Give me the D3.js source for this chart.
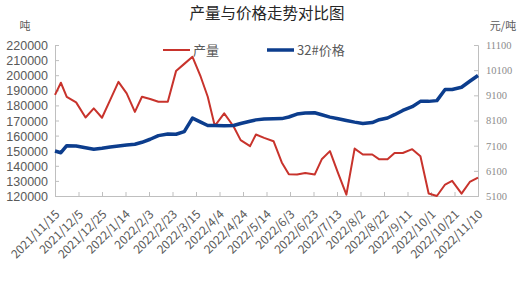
<!DOCTYPE html>
<html>
<head>
<meta charset="utf-8">
<script src="https://cdn.jsdelivr.net/npm/d3@7"></script>
<style>
  body { margin: 0; background: #fff; }
  svg { display: block; }
</style>
</head>
<body>
<div id="chart"></div>
<script>
// weekly observation dates
const dates = [
  "2021-11-15", "2021-11-20", "2021-11-25", "2021-12-03", "2021-12-11", "2021-12-18", "2021-12-25",
  "2022-01-01", "2022-01-08", "2022-01-15", "2022-01-22", "2022-01-28", "2022-02-04", "2022-02-11",
  "2022-02-19", "2022-02-26", "2022-03-05", "2022-03-12", "2022-03-19", "2022-03-25", "2022-03-31",
  "2022-04-08", "2022-04-16", "2022-04-22", "2022-04-30", "2022-05-05", "2022-05-12", "2022-05-20",
  "2022-05-27", "2022-06-02", "2022-06-09", "2022-06-16", "2022-06-24", "2022-06-30", "2022-07-07",
  "2022-07-14", "2022-07-21", "2022-07-28", "2022-08-04", "2022-08-12", "2022-08-18", "2022-08-25",
  "2022-08-31", "2022-09-07", "2022-09-15", "2022-09-22", "2022-09-29", "2022-10-06", "2022-10-13",
  "2022-10-19", "2022-10-27", "2022-11-03", "2022-11-10"
];

// 产量 (吨)
const output = [
  187000, 195000, 185700, 182000, 172000, 178000, 171800, 183700, 195600, 188000, 175700,
  185700, 184200, 182400, 182400, 202700, 207500, 212200, 199000, 185700, 166400, 174700,
  166000, 157000, 153000, 160700, 158500, 156300, 142200, 134400, 134200, 135300, 134200,
  144300, 149700, 135000, 120900, 151400, 147500, 147500, 144300, 144300, 148500, 148500,
  151000, 146300, 121600, 120000, 127600, 130000, 121600, 129300, 132200
];

// 32#价格 (元/吨)
const price = [
  6890, 6820, 7100, 7085, 7020, 6960, 6995, 7045, 7085, 7125, 7155,
  7235, 7355, 7500, 7565, 7555, 7660, 8195, 8035, 7900, 7900, 7895,
  7900, 7980, 8070, 8125, 8155, 8170, 8175, 8240, 8355, 8400, 8410,
  8330, 8235, 8170, 8100, 8035, 7980, 8020, 8130, 8200, 8330, 8500,
  8650, 8860, 8860, 8890, 9330, 9330, 9420, 9660, 9890
];

const leftTicks = [120000, 130000, 140000, 150000, 160000, 170000, 180000, 190000, 200000, 210000, 220000];
const rightTicks = [5100, 6100, 7100, 8100, 9100, 10100, 11100];
const xTickLabels = [
  "2021/11/15", "2021/12/5", "2021/12/25", "2022/1/14", "2022/2/3", "2022/2/23", "2022/3/15",
  "2022/4/4", "2022/4/24", "2022/5/14", "2022/6/3", "2022/6/23", "2022/7/13", "2022/8/2",
  "2022/8/22", "2022/9/11", "2022/10/1", "2022/10/21", "2022/11/10"
];

const width = 522, height = 295;
const plot = { left: 55, right: 478, top: 45, bottom: 196 };
const axisColor = "#bfbfbf";
const textColor = "#595959";
const redColor = "#c8332c";
const blueColor = "#0c3d8d";
const cjk = "'Noto Sans CJK SC', 'Noto Sans', sans-serif";

const parse = d3.timeParse("%Y-%m-%d");
const parseTick = d3.timeParse("%Y/%m/%d");

const rows = dates.map((d, i) => ({ date: parse(d), output: output[i], price: price[i] }));
const tickDates = xTickLabels.map(parseTick);

const svg = d3.select("#chart")
  .append("svg")
  .attr("width", width)
  .attr("height", height);

// Scales
const x = d3.scaleTime()
  .domain([tickDates[0], tickDates[tickDates.length - 1]])
  .range([plot.left, plot.right]);

const yLeft = d3.scaleLinear()
  .domain([120000, 220000])
  .range([plot.bottom, plot.top]);

const yRight = d3.scaleLinear()
  .domain([5100, 11100])
  .range([plot.bottom, plot.top]);

// Title
svg.append("text")
  .attr("x", 267)
  .attr("y", 19)
  .attr("text-anchor", "middle")
  .style("font-family", cjk)
  .style("font-size", "15.5px")
  .style("fill", "#262626")
  .text("产量与价格走势对比图");

// Unit labels
svg.append("text")
  .attr("x", 25)
  .attr("y", 30)
  .attr("text-anchor", "middle")
  .style("font-family", cjk)
  .style("font-size", "11px")
  .style("fill", textColor)
  .text("吨");

svg.append("text")
  .attr("x", 503)
  .attr("y", 30)
  .attr("text-anchor", "middle")
  .style("font-family", cjk)
  .style("font-size", "11px")
  .style("fill", textColor)
  .text("元/吨");

// Left axis
const gLeft = svg.append("g")
  .attr("transform", `translate(${plot.left},0)`)
  .call(d3.axisRight(yLeft).tickValues(leftTicks).tickSize(4).tickFormat(d3.format("d")));
gLeft.select(".domain").attr("stroke", axisColor);
gLeft.selectAll(".tick line").attr("stroke", axisColor);
gLeft.selectAll(".tick text")
  .attr("x", -7)
  .attr("dy", "0.36em")
  .attr("text-anchor", "end")
  .style("font-family", "'Liberation Sans', Arial, sans-serif")
  .style("font-size", "12.5px")
  .style("fill", textColor);

// Right axis
const gRight = svg.append("g")
  .attr("transform", `translate(${plot.right},0)`)
  .call(d3.axisLeft(yRight).tickValues(rightTicks).tickSize(4).tickFormat(d3.format("d")));
gRight.select(".domain").attr("stroke", axisColor);
gRight.selectAll(".tick line").attr("stroke", axisColor);
gRight.selectAll(".tick text")
  .attr("x", 8)
  .attr("text-anchor", "start")
  .style("font-family", "'Liberation Serif', 'DejaVu Serif', serif")
  .style("font-size", "10.5px")
  .style("fill", "#8c8c8c");

// Bottom axis
const gBottom = svg.append("g")
  .attr("transform", `translate(0,${plot.bottom})`)
  .call(d3.axisTop(x).tickValues(tickDates).tickSize(4).tickFormat((d, i) => xTickLabels[i]));
gBottom.select(".domain").attr("stroke", axisColor);
gBottom.selectAll(".tick line").attr("stroke", axisColor);
gBottom.selectAll(".tick text")
  .attr("x", 0)
  .attr("y", 0)
  .attr("dy", 0)
  .attr("text-anchor", "end")
  .attr("transform", "translate(5,19) rotate(-45)")
  .style("font-family", cjk)
  .style("font-size", "12px")
  .style("fill", textColor);

// Lines
const outputLine = d3.line()
  .x(d => x(d.date))
  .y(d => yLeft(d.output));

const priceLine = d3.line()
  .x(d => x(d.date))
  .y(d => yRight(d.price));

svg.append("path")
  .datum(rows)
  .attr("fill", "none")
  .attr("stroke", redColor)
  .attr("stroke-width", 2)
  .attr("stroke-linejoin", "round")
  .attr("d", outputLine);

svg.append("path")
  .datum(rows)
  .attr("fill", "none")
  .attr("stroke", blueColor)
  .attr("stroke-width", 3.5)
  .attr("stroke-linejoin", "round")
  .attr("d", priceLine);

// Legend
const legend = [
  { label: "产量", color: redColor, width: 2, x: 163 },
  { label: "32#价格", color: blueColor, width: 3.5, x: 267 }
];
const lg = svg.append("g");
legend.forEach(item => {
  lg.append("line")
    .attr("x1", item.x)
    .attr("x2", item.x + 27)
    .attr("y1", 50)
    .attr("y2", 50)
    .attr("stroke", item.color)
    .attr("stroke-width", item.width);
  lg.append("text")
    .attr("x", item.x + 30)
    .attr("y", 55)
    .style("font-family", cjk)
    .style("font-size", "13px")
    .style("fill", textColor)
    .text(item.label);
});
</script>
</body>
</html>
